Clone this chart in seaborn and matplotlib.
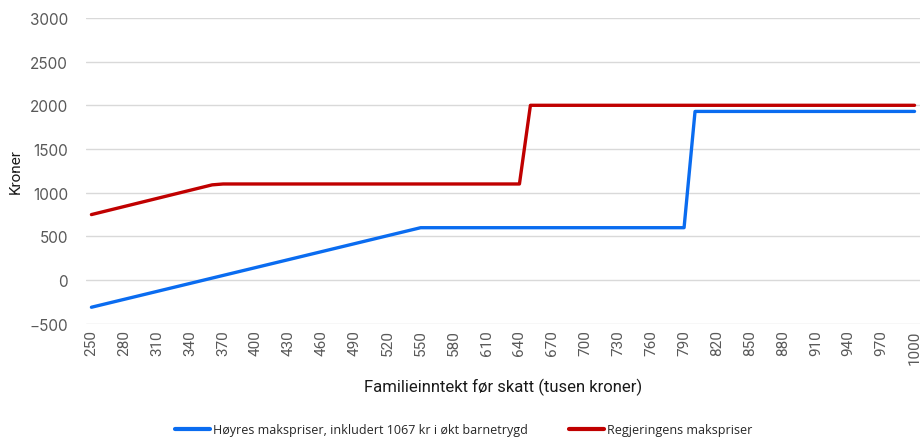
import pandas as pd
import matplotlib.pyplot as plt
import seaborn as sns

# Breakpoints (income in thousand kroner)
inntekt_hoyre = [250, 550, 790, 800, 1000]
pris_hoyre = [-310, 600, 600, 1930, 1930]
inntekt_reg = [250, 360, 370, 640, 650, 1000]
pris_reg = [750, 1090, 1100, 1100, 2000, 2000]

navn_hoyre = "Høyres makspriser, inkludert 1067 kr i økt barnetrygd"
navn_reg = "Regjeringens makspriser"

x_ticks = list(range(250, 1001, 30))
y_ticks = list(range(-500, 3001, 500))

df = pd.concat([
    pd.DataFrame({"inntekt": inntekt_hoyre, "pris": pris_hoyre, "serie": navn_hoyre}),
    pd.DataFrame({"inntekt": inntekt_reg, "pris": pris_reg, "serie": navn_reg}),
])

sns.set_style("white")
plt.rcParams["font.family"] = ["Roboto", "DejaVu Sans"]

fig = plt.figure(figsize=(9.24, 4.39), dpi=100)
ax = fig.add_axes([0.093, 0.26, 0.9027, 0.697])

sns.lineplot(data=df, x="inntekt", y="pris", hue="serie",
             palette={navn_hoyre: "#0A6CF0", navn_reg: "#C00000"},
             estimator=None, sort=False, linewidth=2.4, ax=ax, legend=False)

ax.set_xlim(245, 1005)
ax.set_ylim(-500, 3000)
ax.set_xticks(x_ticks)
ax.set_xticklabels([str(t) for t in x_ticks], rotation=90, fontsize=11,
                   color="#595959", family="Roboto")
ax.set_yticks(y_ticks)
ax.set_yticklabels([f"{t}".replace("-", "\u2212") for t in y_ticks],
                   fontsize=11, color="#595959", family="Inter")
ax.tick_params(axis="y", length=0, pad=13)
ax.tick_params(axis="x", length=0, pad=4)
ax.grid(axis="y", color="#D9D9D9", linewidth=1)
ax.grid(axis="x", visible=False)
for s in ax.spines.values():
    s.set_visible(False)

ax.set_xlabel("Familieinntekt før skatt (tusen kroner)", fontsize=12,
              color="#1a1a1a", labelpad=10)
ax.set_ylabel("Kroner", fontsize=11, color="#1a1a1a", labelpad=5)

handles = [plt.Line2D([], [], color="#0A6CF0", linewidth=3),
           plt.Line2D([], [], color="#C00000", linewidth=3)]
fig.legend(handles, [navn_hoyre, navn_reg], loc="lower center",
           bbox_to_anchor=(0.502, -0.022), ncol=2, frameon=False,
           prop={"family": "Open Sans", "size": 9},
           handlelength=2.8, handletextpad=0.25, columnspacing=3.3)

fig.savefig("out.png", dpi=100)
